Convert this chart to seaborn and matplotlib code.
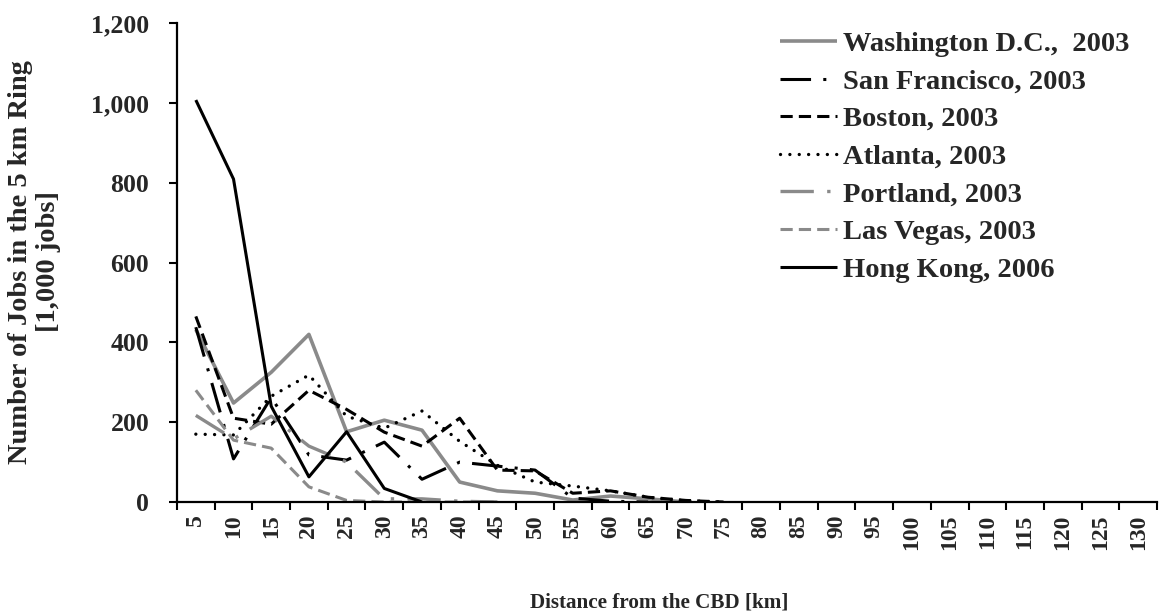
import matplotlib
matplotlib.use("Agg")
import matplotlib.pyplot as plt
import seaborn as sns
import pandas as pd
from matplotlib.ticker import FuncFormatter, FixedLocator

# Distance rings (km from the CBD)
distance_km = [5, 10, 15, 20, 25, 30, 35, 40, 45, 50, 55, 60, 65,
               70, 75, 80, 85, 90, 95, 100, 105, 110, 115, 120, 125, 130]

# Jobs in each 5 km ring [1,000 jobs]
washington = [432, 248, 325, 420, 176, 205, 180, 50, 28, 22, 5, 15, 8, 0]
san_francisco = [438, 108, 262, 118, 105, 150, 57, 100, 90, 80, 10, 2, 0]
boston = [465, 210, 195, 280, 232, 175, 140, 210, 80, 78, 22, 28, 12, 4, 0]
atlanta = [170, 168, 265, 318, 215, 185, 228, 152, 92, 50, 40, 28, 12, 3, 0]
portland = [217, 158, 215, 140, 100, 8, 8, 2, 0]
las_vegas = [280, 155, 135, 38, 4, 0, 0, 0, 0]
hong_kong = [1007, 809, 240, 63, 176, 34, 0]

series_names = ["Washington D.C.,  2003", "San Francisco, 2003", "Boston, 2003",
                "Atlanta, 2003", "Portland, 2003", "Las Vegas, 2003", "Hong Kong, 2006"]
series_values = [washington, san_francisco, boston, atlanta, portland, las_vegas, hong_kong]

GRAY = "#8a8a8a"
styles = [
    dict(color=GRAY, lw=2.6, dashes=None, cap="butt"),
    dict(color="black", lw=2.2, dashes=(10, 4, 1, 4), cap="butt"),
    dict(color="black", lw=2.2, dashes=(4, 2), cap="butt"),
    dict(color="black", lw=2.4, dashes=(0.01, 2.8), cap="round"),
    dict(color=GRAY, lw=2.4, dashes=(10, 4, 1, 4), cap="butt"),
    dict(color=GRAY, lw=2.2, dashes=(4, 2), cap="butt"),
    dict(color="black", lw=2.2, dashes=None, cap="butt"),
]

sns.set_style("ticks")
plt.rcParams["font.family"] = ["Liberation Serif", "DejaVu Serif"]
plt.rcParams["font.weight"] = "bold"

fig = plt.figure(figsize=(11.59, 6.15), dpi=100)
ax = fig.add_axes([0.1527, 0.1837, 0.8456, 0.7789])

for name, vals, st in zip(series_names, series_values, styles):
    df = pd.DataFrame({"km": distance_km[:len(vals)], "jobs": vals})
    sns.lineplot(data=df, x="km", y="jobs", ax=ax, color=st["color"],
                 linewidth=st["lw"], label=name, sort=False)
    line = ax.lines[-1]
    if st["dashes"] is not None:
        line.set_dashes(st["dashes"])
    line.set_dash_capstyle(st["cap"])
    line.set_solid_capstyle("butt")

ax.set_xlim(2.5, 132.5)
ax.set_ylim(0, 1200)

# category labels at ring centres, tick marks between rings
ax.xaxis.set_major_locator(FixedLocator(distance_km))
ax.xaxis.set_minor_locator(FixedLocator([d - 2.5 for d in distance_km] + [132.5]))
ax.set_xticklabels([str(d) for d in distance_km], rotation=90, fontsize=17,
                   fontweight="bold")
ax.tick_params(axis="x", which="major", length=0, pad=9)
ax.tick_params(axis="x", which="minor", length=6, width=1.5, direction="out",
               color="black")

ax.set_yticks([0, 200, 400, 600, 800, 1000, 1200])
ax.yaxis.set_major_formatter(FuncFormatter(lambda v, p: f"{int(v):,}"))
ax.tick_params(axis="y", length=6, width=1.5, direction="out", labelsize=18.5,
               pad=14, color="black")
for lbl in ax.get_yticklabels():
    lbl.set_fontweight("bold")

for side in ["top", "right"]:
    ax.spines[side].set_visible(False)
for side in ["left", "bottom"]:
    ax.spines[side].set_color("black")
    ax.spines[side].set_linewidth(1.6)
    ax.spines[side].set_zorder(3)

ax.set_xlabel("")
ax.set_ylabel("")

fig.text(0.569, 1 - 603 / 615, "Distance from the CBD [km]", ha="center",
         va="center", fontsize=15.2, fontweight="bold")
fig.text(0.030, 1 - 262 / 615, "Number of Jobs in the 5 km Ring\n[1,000 jobs]",
         rotation=90, ha="center", va="center", multialignment="center",
         fontsize=20.5, fontweight="bold", linespacing=1.15)

leg = ax.legend(loc="upper left", bbox_to_anchor=(780 / 1159, 1 - 31 / 615),
                bbox_transform=fig.transFigure, frameon=False,
                prop={"size": 20.5, "weight": "bold"}, handlelength=2.0,
                handletextpad=0.2, labelspacing=0.41, borderaxespad=0,
                borderpad=0)

fig.savefig("out.png", dpi=100)
